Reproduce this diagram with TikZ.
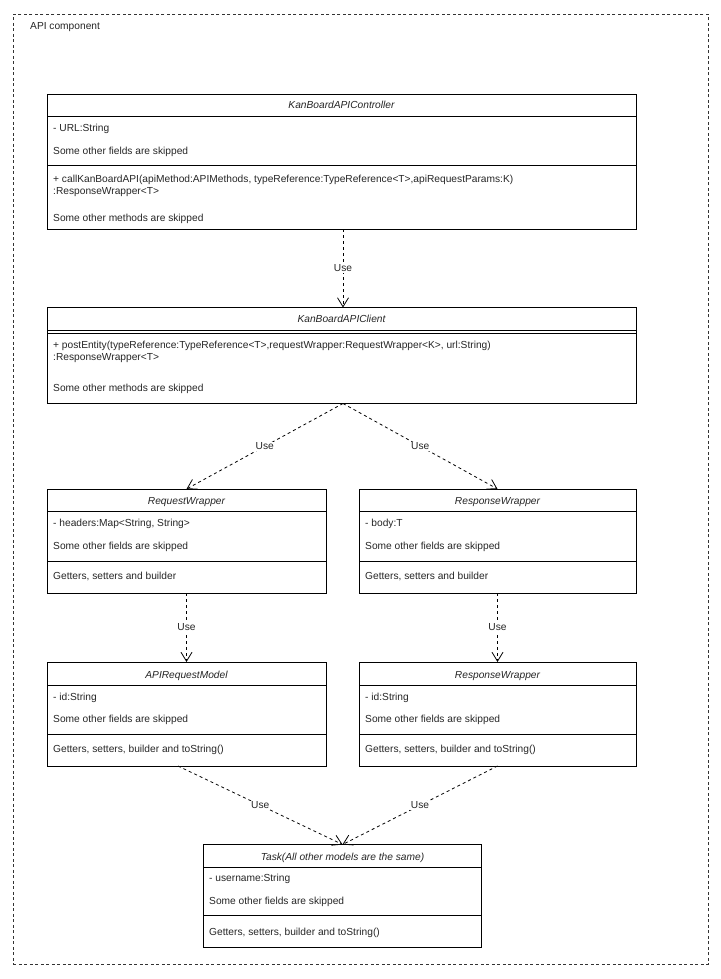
\documentclass[tikz,border=0pt]{standalone}
\usepackage{fontspec}
\setmainfont{Liberation Sans}
\usetikzlibrary{arrows.meta,calc}
\begin{document}
\begin{tikzpicture}[x=1pt,y=-1pt,
  cls/.style={draw=black, line width=0.9pt, inner sep=0pt, outer sep=0pt, anchor=north west},
  sep/.style={draw=black, line width=0.9pt},
  txt/.style={anchor=base west, inner sep=0pt, text=black!85, font=\fontsize{10.2}{12}\selectfont},
  ttl/.style={anchor=base, inner sep=0pt, text=black!85, font=\fontsize{10.2}{12}\selectfont\itshape},
  use/.style={draw=black, line width=0.8pt, dash pattern=on 3pt off 3pt,
    -{Straight Barb[length=9pt,width=11pt,line width=0.8pt]}},
  lbl/.style={fill=white, inner sep=1pt, text=black!85, font=\fontsize{10.2}{12}\selectfont}]
\useasboundingbox (0,0) rectangle (720,979);
\fill[white] (0,0) rectangle (720,979);
% outer frame
\node[draw=black!80, line width=0.8pt, dash pattern=on 3pt off 2.5pt, inner sep=0pt, anchor=north west,
  minimum width=695pt, minimum height=950pt] (frame) at (13,14) {};
\node[txt] (frametitle) at (30,29.5) {API component};

% KanBoardAPIController
\node[cls, minimum width=589pt, minimum height=135pt] (ctrl) at (47,94) {};
\node[ttl] (ctrlt) at (341.5,109) {KanBoardAPIController};
\draw[sep] (47,116.5) -- (636,116.5);
\node[txt] (ctrlf1) at (53,131.5) {- URL:String};
\node[txt] (ctrlf2) at (53,154.5) {Some other fields are skipped};
\draw[sep] (47,165) -- (636,165);
\node[txt] (ctrlm1) at (53,182) {+ callKanBoardAPI(apiMethod:APIMethods, typeReference:TypeReference<T>,apiRequestParams:K)};
\node[txt] (ctrlm2) at (53,194) {:ResponseWrapper<T>};
\node[txt] (ctrlm3) at (53,221.5) {Some other methods are skipped};

% KanBoardAPIClient
\node[cls, minimum width=589pt, minimum height=96pt] (client) at (47,307.5) {};
\node[ttl] (clientt) at (341.5,322.5) {KanBoardAPIClient};
\draw[sep] (47,330) -- (636,330);
\draw[sep] (47,333) -- (636,333);
\node[txt] (clientm1) at (53,348.5) {+ postEntity(typeReference:TypeReference<T>,requestWrapper:RequestWrapper<K>, url:String)};
\node[txt] (clientm2) at (53,360.5) {:ResponseWrapper<T>};
\node[txt] (clientm3) at (53,391.5) {Some other methods are skipped};

% RequestWrapper
\node[cls, minimum width=279pt, minimum height=104pt] (reqw) at (47,489) {};
\node[ttl] (reqwt) at (186.5,504) {RequestWrapper};
\draw[sep] (47,511) -- (326,511);
\node[txt] (reqwf1) at (53,526) {- headers:Map<String, String>};
\node[txt] (reqwf2) at (53,549.5) {Some other fields are skipped};
\draw[sep] (47,561) -- (326,561);
\node[txt] (reqwm) at (53,579) {Getters, setters and builder};

% ResponseWrapper
\node[cls, minimum width=277pt, minimum height=104pt] (respw) at (359,489) {};
\node[ttl] (respwt) at (497.5,504) {ResponseWrapper};
\draw[sep] (359,511) -- (636,511);
\node[txt] (respwf1) at (365,526) {- body:T};
\node[txt] (respwf2) at (365,549.5) {Some other fields are skipped};
\draw[sep] (359,561) -- (636,561);
\node[txt] (respwm) at (365,579) {Getters, setters and builder};

% APIRequestModel
\node[cls, minimum width=279pt, minimum height=104pt] (apim) at (47,662) {};
\node[ttl] (apimt) at (186.5,678.5) {APIRequestModel};
\draw[sep] (47,685) -- (326,685);
\node[txt] (apimf1) at (53,700.5) {- id:String};
\node[txt] (apimf2) at (53,722.5) {Some other fields are skipped};
\draw[sep] (47,734) -- (326,734);
\node[txt] (apimm) at (53,752.5) {Getters, setters, builder and toString()};

% ResponseWrapper (model)
\node[cls, minimum width=277pt, minimum height=104pt] (respm) at (359,662) {};
\node[ttl] (respmt) at (497.5,678.5) {ResponseWrapper};
\draw[sep] (359,685) -- (636,685);
\node[txt] (respmf1) at (365,700.5) {- id:String};
\node[txt] (respmf2) at (365,722.5) {Some other fields are skipped};
\draw[sep] (359,734) -- (636,734);
\node[txt] (respmm) at (365,752.5) {Getters, setters, builder and toString()};

% Task
\node[cls, minimum width=278pt, minimum height=103pt] (task) at (203.5,844.5) {};
\node[ttl] (taskt) at (342.5,860.5) {Task(All other models are the same)};
\draw[sep] (203.5,867.5) -- (481.5,867.5);
\node[txt] (taskf1) at (209,881.5) {- username:String};
\node[txt] (taskf2) at (209,904.5) {Some other fields are skipped};
\draw[sep] (203.5,915.5) -- (481.5,915.5);
\node[txt] (taskm) at (209,935) {Getters, setters, builder and toString()};

% connectors
\draw[use] ($(ctrl.south)+(1.5,0)$) -- node[lbl]{Use} ($(client.north)+(1.5,0)$);
\draw[use] ($(client.south)+(1.5,0)$) -- node[lbl]{Use} (reqw.north);
\draw[use] ($(client.south)+(1.5,0)$) -- node[lbl]{Use} (respw.north);
\draw[use] (reqw.south) -- node[lbl]{Use} (apim.north);
\draw[use] (respw.south) -- node[lbl]{Use} (respm.north);
\draw[use] ($(apim.south)+(-8.5,0)$) -- node[lbl]{Use} (task.north);
\draw[use] (respm.south) -- node[lbl]{Use} (task.north);
\end{tikzpicture}
\end{document}
